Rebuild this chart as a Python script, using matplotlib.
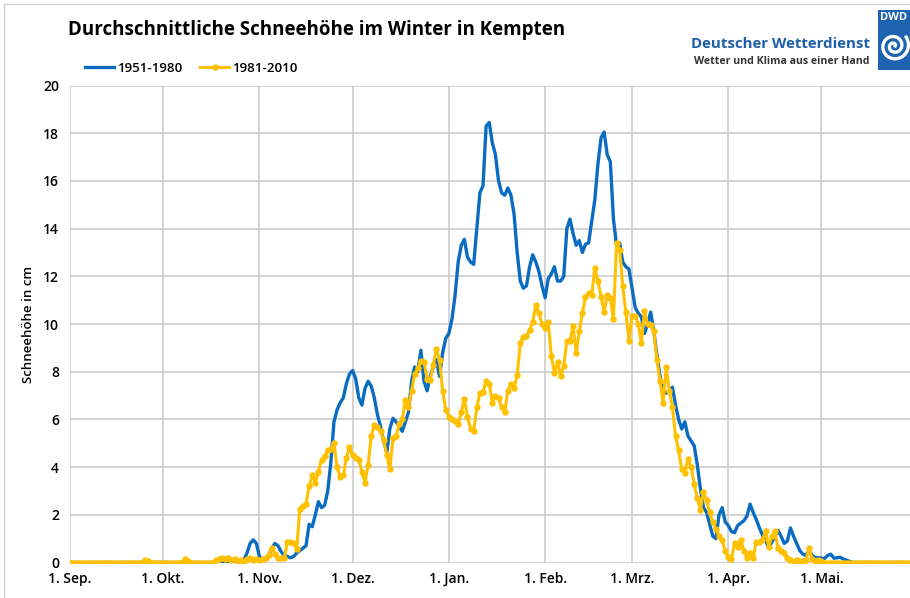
import numpy as np
import pandas as pd
import matplotlib
matplotlib.use('Agg')
import matplotlib.pyplot as plt
from matplotlib.lines import Line2D

plt.rcParams['font.family'] = ['Open Sans', 'DejaVu Sans']

# daily mean snow depth in cm, 1 Sep .. 31 May
snow_1951_1980 = [
    # Sep
    0, 0, 0, 0, 0, 0, 0, 0, 0, 0, 0, 0, 0, 0, 0, 0, 0, 0, 0, 0, 0, 0, 0, 0, 0, 0, 0, 0, 0, 0,
    # Okt
    0, 0, 0, 0, 0, 0, 0, 0, 0, 0, 0, 0, 0, 0, 0, 0, 0, 0, 0, 0, 0, 0, 0, 0.05, 0.05, 0.05,
    0.1, 0.4, 0.8, 0.95, 0.8,
    # Nov
    0.25, 0.1, 0.15, 0.3, 0.6, 0.8, 0.7, 0.45, 0.3, 0.25, 0.2, 0.25, 0.4, 0.5, 0.6, 0.7,
    1.6, 1.5, 2.0, 2.55, 2.3, 2.4, 3.0, 4.2, 5.9, 6.4, 6.7, 6.9, 7.5, 7.9,
    # Dez
    8.05, 7.7, 6.9, 6.6, 7.3, 7.6, 7.4, 6.9, 6.2, 5.7, 5.1, 4.6, 5.6, 6.05, 5.9, 5.7,
    5.5, 5.9, 6.3, 7.6, 8.2, 8.0, 8.9, 7.6, 7.2, 7.8, 8.2, 8.5, 7.8, 8.8, 9.4,
    # Jan
    9.6, 10.2, 11.2, 12.6, 13.3, 13.55, 12.8, 12.6, 12.5, 14.0, 15.5, 15.8, 18.3, 18.45,
    17.6, 17.1, 16.0, 15.5, 15.4, 15.7, 15.4, 14.6, 13.0, 11.8, 11.5, 11.6, 12.4, 12.9,
    12.6, 12.2, 11.6,
    # Feb
    11.1, 11.9, 12.1, 12.4, 11.8, 11.8, 12.0, 14.0, 14.4, 13.8, 13.3, 13.5, 13.0, 13.35,
    13.4, 14.3, 15.2, 16.7, 17.8, 18.05, 17.1, 16.8, 14.4, 13.3, 13.4, 12.6, 12.4, 12.3,
    # Mrz
    11.5, 10.7, 10.45, 10.3, 9.6, 10.0, 10.5, 9.7, 8.7, 7.8, 7.2, 7.1, 7.2, 7.35, 6.6,
    6.0, 5.6, 5.9, 5.3, 5.1, 4.9, 4.1, 3.1, 2.3, 2.1, 1.6, 1.1, 1.0, 2.0, 2.3, 1.7,
    # Apr
    1.55, 1.3, 1.25, 1.55, 1.65, 1.75, 1.95, 2.45, 2.1, 1.8, 1.45, 1.15, 0.9, 0.65, 0.85,
    1.1, 1.35, 1.1, 0.8, 0.9, 1.45, 1.1, 0.8, 0.5, 0.35, 0.3, 0.5, 0.3, 0.2, 0.2,
    # Mai
    0.18, 0.17, 0.3, 0.35, 0.18, 0.2, 0.22, 0.15, 0.1, 0.05, 0, 0, 0, 0, 0, 0, 0, 0, 0, 0,
    0, 0, 0, 0, 0, 0, 0, 0, 0, 0, 0,
]

snow_1981_2010 = [
    # Sep
    0, 0, 0, 0, 0, 0, 0, 0, 0, 0, 0, 0, 0, 0, 0, 0, 0, 0, 0, 0, 0, 0, 0, 0, 0.1, 0.05, 0, 0, 0, 0,
    # Okt
    0, 0, 0, 0, 0, 0, 0, 0.15, 0.05, 0, 0, 0, 0, 0, 0, 0, 0, 0.1, 0.15, 0.2, 0.15, 0.2,
    0.1, 0.15, 0.05, 0.1, 0.05, 0.15, 0.2, 0.1, 0.15,
    # Nov
    0.1, 0.15, 0.2, 0.3, 0.6, 0.35, 0.2, 0.18, 0.2, 0.85, 0.85, 0.8, 0.55, 2.25, 2.35,
    2.45, 3.2, 3.65, 3.35, 3.8, 4.3, 4.45, 4.7, 4.75, 5.0, 4.0, 3.6, 3.65, 4.4, 4.85,
    # Dez
    4.5, 4.4, 4.3, 3.8, 3.35, 4.1, 5.3, 5.75, 5.7, 5.5, 5.15, 4.5, 3.9, 5.2, 5.3, 5.8,
    6.0, 6.8, 6.5, 7.2, 7.9, 8.15, 8.45, 8.4, 7.7, 7.65, 8.3, 8.95, 8.5, 7.2, 6.4,
    # Jan
    6.1, 6.0, 5.95, 5.8, 6.3, 6.85, 6.1, 5.6, 5.5, 6.5, 7.1, 7.15, 7.6, 7.5, 6.7, 7.0,
    6.9, 6.5, 6.3, 7.2, 7.5, 7.3, 7.85, 9.2, 9.45, 9.5, 9.75, 10.1, 10.8, 10.45, 10.0,
    # Feb
    9.85, 10.1, 8.65, 7.95, 8.4, 7.8, 8.25, 9.3, 9.3, 9.9, 8.8, 9.7, 10.45, 11.15, 11.3,
    11.2, 12.35, 11.8, 11.15, 10.5, 11.2, 11.1, 10.2, 13.4, 13.1, 11.6, 10.5, 9.3,
    # Mrz
    10.35, 10.35, 10.0, 9.2, 10.55, 10.0, 9.95, 9.7, 8.5, 7.6, 6.7, 8.2, 7.2, 6.5, 5.3,
    4.7, 3.9, 3.75, 4.35, 4.0, 3.3, 2.7, 2.2, 2.95, 2.6, 2.1, 1.7, 1.4, 1.1, 0.95, 0.5,
    # Apr
    0.25, 0.15, 0.8, 0.65, 0.95, 0.5, 0.2, 0.4, 0.2, 0.85, 0.85, 0.95, 1.3, 0.65, 1.1,
    1.3, 0.6, 0.5, 0.4, 0.2, 0.1, 0.05, 0.1, 0.05, 0.05, 0.1, 0.6, 0.15, 0.05, 0.1,
    # Mai
    0.05, 0, 0, 0, 0, 0, 0, 0, 0, 0, 0, 0, 0, 0, 0, 0, 0, 0, 0, 0, 0, 0, 0, 0, 0, 0, 0,
    0, 0, 0, 0,
]

series_labels = ['1951-1980', '1981-2010']
month_labels = ['1. Sep.', '1. Okt.', '1. Nov.', '1. Dez.', '1. Jan.', '1. Feb.',
                '1. Mrz.', '1. Apr.', '1. Mai.']
y_ticks = list(range(0, 21, 2))

season_start = '2001-09-01'
days = pd.date_range(season_start, periods=len(snow_1951_1980), freq='D')
days2 = pd.date_range(season_start, periods=len(snow_1981_2010), freq='D')
month_starts = pd.date_range(season_start, periods=len(month_labels), freq='MS')

blue = '#0A6CC0'
gold = '#FFC000'

fig = plt.figure(figsize=(9.1, 5.98), dpi=100)
ax = fig.add_axes([70 / 910, 1 - 562.5 / 598, 1 - 70 / 910, (562.5 - 85.5) / 598])

ax.plot(days, snow_1951_1980, color=blue, lw=2.4, solid_joinstyle='round', zorder=3,
        label=series_labels[0])
ax.plot(days2, snow_1981_2010, color=gold, lw=2.2, marker='o', ms=3.6, zorder=4,
        label=series_labels[1])

ax.set_ylim(0, 20)
ax.set_yticks(y_ticks)
ax.set_xlim(pd.Timestamp(season_start), pd.Timestamp(season_start) + pd.Timedelta(days=270.5))
ax.set_xticks(month_starts)
ax.set_xticklabels(month_labels)
ax.grid(True, color='#C8C8C8', lw=1.1)
ax.set_axisbelow(True)
for s in ax.spines.values():
    s.set_visible(False)
ax.tick_params(length=0, labelsize=10, pad=7)
ax.tick_params(axis='y', pad=8)
for lab in ax.get_xticklabels() + ax.get_yticklabels():
    lab.set_fontweight('semibold')
ax.set_ylabel('Schneehöhe in cm', fontsize=9.5, fontweight='semibold', labelpad=6)

fig.text(68 / 910, 1 - 30 / 598, 'Durchschnittliche Schneehöhe im Winter in Kempten',
         fontsize=13.5, fontweight='bold', va='center', ha='left')

leg = ax.legend(loc='lower left', bbox_to_anchor=(85 / 910, 1 - 75 / 598), bbox_transform=fig.transFigure,
                ncol=2, frameon=False, fontsize=9.5, handlelength=2.2, handletextpad=0.2,
                columnspacing=1.4, borderpad=0, borderaxespad=0)
for t in leg.get_texts():
    t.set_fontweight('semibold')

# DWD logo
fig.text(870 / 910, 1 - 44 / 598, 'Deutscher Wetterdienst', color='#1F5FA8', fontsize=10.8,
         fontweight='bold', ha='right', va='center')
fig.text(870 / 910, 1 - 61 / 598, 'Wetter und Klima aus einer Hand', color='#333333', fontsize=7.6,
         fontweight='bold', ha='right', va='center')
lax = fig.add_axes([878 / 910, 1 - 70 / 598, 40 / 910, 60 / 598])
lax.set_xlim(0, 40)
lax.set_ylim(0, 60)
lax.axis('off')
lax.add_patch(plt.Rectangle((0, 0), 40, 60, color='#1E63B0'))
lax.text(2, 53, 'DWD', color='white', fontsize=8, fontweight='bold', va='center', ha='left')
th = np.linspace(0, 4.2 * np.pi, 200)
r = 1.2 + 1.05 * th
lax.plot(16 + r * np.cos(th), 24 + r * np.sin(th), color='white', lw=2.4)

# thin screenshot border
fig.add_artist(Line2D([4 / 910, 4 / 910], [0, 1 - 4 / 598], color='#D0D0D0', lw=1))
fig.add_artist(Line2D([4 / 910, 1], [1 - 4 / 598, 1 - 4 / 598], color='#D0D0D0', lw=1))

fig.savefig('out.png', dpi=100)
